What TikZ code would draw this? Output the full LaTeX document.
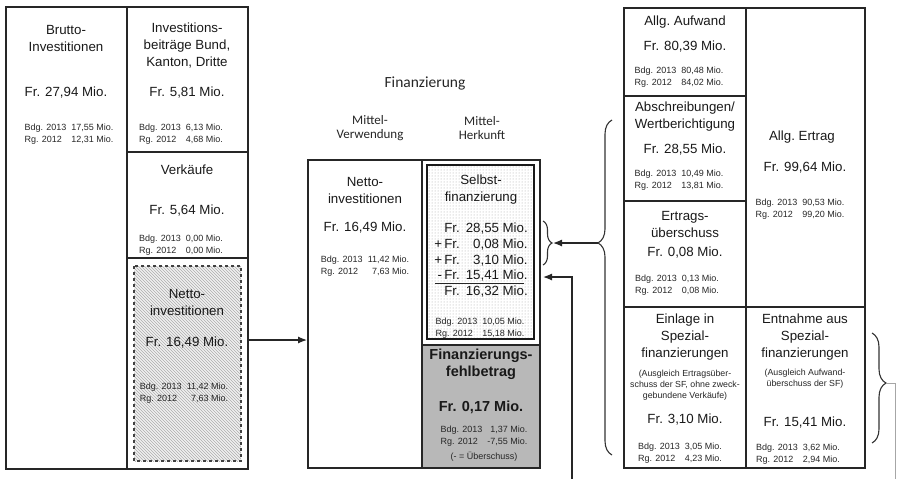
\documentclass[tikz,border=0pt]{standalone}
\usepackage{fontspec}
\setmainfont{Liberation Sans}
\newfontfamily\calibrifont{Carlito}
\usepackage{tikz}
\usetikzlibrary{arrows.meta, patterns, decorations.pathreplacing}

\newcommand{\titelgr}{\fontsize{13.3}{17}\selectfont}
\newcommand{\kleingr}{\fontsize{9}{12.5}\selectfont}
\newcommand{\hinwgr}{\fontsize{8.8}{11}\selectfont}
\newcommand{\kopfgr}{\calibrifont\fontsize{15.5}{18}\selectfont}
\newcommand{\spaltgr}{\calibrifont\fontsize{13}{14.5}\selectfont}
% Budget- und Rechnungszeile
\newcommand{\vergl}[2]{\begin{tabular}{@{}l@{\hspace{5pt}}r@{}}Bdg. 2013 & #1 Mio.\\ Rg. 2012 & #2 Mio.\end{tabular}}

\begin{document}
\begin{tikzpicture}[x=1pt, y=-1pt]
        % Define the styles
        \tikzstyle{rahmen}=[draw=black!85, line width=2.6pt]
        \tikzstyle{fach}=[draw=black!85, line width=1.3pt]
        \tikzstyle{titel}=[align=center, font=\titelgr, inner sep=0pt, text=black!90]
        \tikzstyle{klein}=[font=\kleingr, inner sep=0pt, text=black!85]
        \tikzstyle{hinweis}=[align=center, font=\hinwgr, inner sep=0pt, text=black!85]
        \tikzstyle{kopf}=[align=center, inner sep=0pt, text=black!85]
        \tikzstyle{pfeil}=[-{Latex[length=9pt, width=7pt]}, line width=1.2pt, draw=black!85]
        \tikzstyle{klammer}=[decorate, line width=1.1pt, draw=black!80]

        \useasboundingbox (0,0) rectangle (897,479);

        % Define the boxes
        \fill[black!28] (422,345) rectangle (540,468);
        \fill[white] (427,165) rectangle (534,339);
        \fill[pattern=dots, pattern color=black!35] (427,165) rectangle (534,339);
        \draw[line width=1.1pt, draw=black!90] (427,165) rectangle (534,339);
        \fill[black!6] (134,266) rectangle (241,461);
        \fill[pattern=north west lines, pattern color=black!32] (134,266) rectangle (241,461);
        \draw[dashed, line width=1.1pt, draw=black!75] (134,266) rectangle (241,461);

        \draw[rahmen] (6,7) rectangle (248,469);
        \draw[fach] (127,7) -- (127,469);
        \draw[fach] (127,152) -- (248,152);
        \draw[fach] (127,258) -- (248,258);

        \draw[rahmen] (308,160) rectangle (540,468);
        \draw[fach] (422,160) -- (422,468);
        \draw[fach] (422,345) -- (540,345);

        \draw[rahmen] (624,8) rectangle (865,468);
        \draw[fach] (746,8) -- (746,468);
        \draw[fach] (624,96) -- (746,96);
        \draw[fach] (624,201) -- (746,201);
        \draw[fach] (624,307) -- (865,307);

        % Define the nodes of the left box
        \node[titel] (lBrutto) at (66,38) {Brutto-\\Investitionen};
        \node[titel] (lBruttoFr) at (66,93) {Fr. 27,94 Mio.};
        \node[klein] (lBruttoBdg) at (69,134) {\vergl{17,55}{12,31}};
        \node[titel] (lBeitr) at (187,46) {Investitions-\\beiträge Bund,\\Kanton, Dritte};
        \node[titel] (lBeitrFr) at (187,93) {Fr. 5,81 Mio.};
        \node[klein] (lBeitrBdg) at (181,134) {\vergl{6,13}{4,68}};
        \node[titel] (lVerk) at (187,170) {Verkäufe};
        \node[titel] (lVerkFr) at (187,211) {Fr. 5,64 Mio.};
        \node[klein] (lVerkBdg) at (181,245) {\vergl{0,00}{0,00}};
        \node[titel] (lNetto) at (187,302) {Netto-\\investitionen};
        \node[titel] (lNettoFr) at (187,343) {Fr. 16,49 Mio.};
        \node[klein] (lNettoBdg) at (184,393) {\vergl{11,42}{7,63}};

        % Define the nodes of the middle box
        \node[kopf, font=\kopfgr] (mFin) at (425,83) {Finanzierung};
        \node[kopf, font=\spaltgr] (mVerw) at (370,128) {Mittel-\\Verwendung};
        \node[kopf, font=\spaltgr] (mHerk) at (482,128) {Mittel-\\Herkunft};
        \node[titel] (mNetto) at (365,190) {Netto-\\investitionen};
        \node[titel] (mNettoFr) at (365,228) {Fr. 16,49 Mio.};
        \node[klein] (mNettoBdg) at (365,266) {\vergl{11,42}{7,63}};
        \node[titel] (mSelbst) at (481,190) {Selbst-\\finanzierung};
        \node[titel, font=\fontsize{13.3}{15.8}\selectfont] (mRechnung) at (481,261) {%
          \begin{tabular}{@{}r@{}l@{\hspace{6pt}}r@{\hspace{3.5pt}}l@{}}
            & Fr. & 28,55 & Mio.\\
            +\, & Fr. & 0,08 & Mio.\\
            +\, & Fr. & 3,10 & Mio.\\
            -\, & Fr. & 15,41 & Mio.\\
            & Fr. & 16,32 & Mio.
          \end{tabular}};
        \draw[line width=1pt, black!85] (435,283.5) -- (524,283.5);
        \node[klein] (mSelbstBdg) at (480,328) {\vergl{10,05}{15,18}};
        \node[titel, font=\bfseries\fontsize{14.5}{17}\selectfont] (mFehl) at (481,364) {Finanzierungs-\\fehlbetrag};
        \node[titel, font=\bfseries\fontsize{14.5}{17}\selectfont] (mFehlFr) at (481,407) {Fr. 0,17 Mio.};
        \node[klein] (mFehlBdg) at (484,436) {\vergl{1,37}{-7,55}};
        \node[klein] (mFehlHinw) at (484,457) {(- = Überschuss)};

        % Define the nodes of the right box
        \node[titel] (rAufw) at (685,22) {Allg.\ Aufwand};
        \node[titel] (rAufwFr) at (685,47) {Fr. 80,39 Mio.};
        \node[klein] (rAufwBdg) at (679,77) {\vergl{80,48}{84,02}};
        \node[titel] (rAbschr) at (685,117) {Abschreibungen/\\Wertberichtigung};
        \node[titel] (rAbschrFr) at (685,150) {Fr. 28,55 Mio.};
        \node[klein] (rAbschrBdg) at (679,180) {\vergl{10,49}{13,81}};
        \node[titel] (rErtrag) at (802,137) {Allg.\ Ertrag};
        \node[titel] (rErtragFr) at (805,168) {Fr. 99,64 Mio.};
        \node[klein] (rErtragBdg) at (800,209) {\vergl{90,53}{99,20}};
        \node[titel] (rUeber) at (685,224) {Ertrags-\\überschuss};
        \node[titel] (rUeberFr) at (685,253) {Fr. 0,08 Mio.};
        \node[klein] (rUeberBdg) at (677,285) {\vergl{0,13}{0,08}};
        \node[titel] (rEinl) at (685,337) {Einlage in\\Spezial-\\finanzierungen};
        \node[hinweis] (rEinlHinw) at (685,385) {(Ausgleich Ertragsüber-\\schuss der SF, ohne zweck-\\gebundene Verkäufe)};
        \node[titel] (rEinlFr) at (685,420) {Fr. 3,10 Mio.};
        \node[klein] (rEinlBdg) at (680,453) {\vergl{3,05}{4,23}};
        \node[titel] (rEntn) at (805,337) {Entnahme aus\\Spezial-\\finanzierungen};
        \node[hinweis] (rEntnHinw) at (805,379) {(Ausgleich Aufwand-\\überschuss der SF)};
        \node[titel] (rEntnFr) at (805,423) {Fr. 15,41 Mio.};
        \node[klein] (rEntnBdg) at (798,454) {\vergl{3,62}{2,94}};

        % Define the connectors
        \coordinate (linksOst) at (248,340);
        \coordinate (mitteWest) at (307,340);
        \draw[pfeil] (linksOst) -- (mitteWest);

        \draw[klammer, decoration={brace, amplitude=9pt}] (543,221) -- (543,265);
        \coordinate (spitzeKlein) at (553,243);
        \draw[klammer, decoration={brace, amplitude=14pt, aspect=0.633}] (612,455) -- (612,120);
        \coordinate (spitzeGross) at (598,243);
        \draw[pfeil] (spitzeGross) -- (spitzeKlein);

        \coordinate (untenMitte) at (572,479);
        \coordinate (mitteOst) at (543,277);
        \draw[pfeil] (untenMitte) |- (mitteOst);

        \draw[klammer, decoration={brace, amplitude=14pt, aspect=0.455}] (872,333) -- (872,443);
        \coordinate (spitzeRechts) at (886,383);
        \coordinate (randUnten) at (895,479);
        \draw[black!35, line width=0.8pt] (spitzeRechts) -| (randUnten);
\end{tikzpicture}
\end{document}
